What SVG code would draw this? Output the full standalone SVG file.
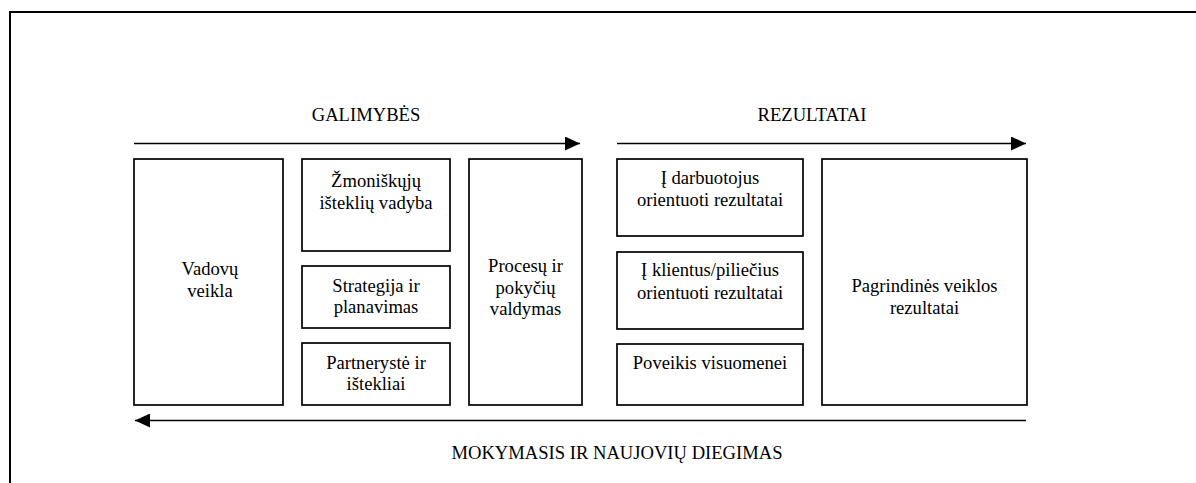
<svg xmlns="http://www.w3.org/2000/svg" width="1196" height="483" viewBox="0 0 1196 483">
<style>
.box{fill:#fff;stroke:#000;stroke-width:1.7}
.ln{stroke:#000;stroke-width:1.5;fill:none}
text{font-family:"Liberation Serif","Times New Roman",serif;font-size:18.6px;fill:#000;text-anchor:middle}
</style>
<defs>
<marker id="ah" markerWidth="15" markerHeight="14" refX="15" refY="7" orient="auto" markerUnits="userSpaceOnUse">
<path d="M0,0 L15,7 L0,14 Z" fill="#000"/>
</marker>
</defs>
<rect width="1196" height="483" fill="#fff"/>
<g id="frame">
<path d="M10,483 L10,12 L1196,12" fill="none" stroke="#000" stroke-width="2"/>
</g>
<g id="labels">
<text x="366" y="121">GALIMYBĖS</text>
<text x="812" y="121">REZULTATAI</text>
<text x="617" y="459">MOKYMASIS IR NAUJOVIŲ DIEGIMAS</text>
</g>
<g id="connectors">
<line class="ln" x1="134" y1="143.5" x2="580" y2="143.5" marker-end="url(#ah)"/>
<line class="ln" x1="617" y1="143.5" x2="1026" y2="143.5" marker-end="url(#ah)"/>
<line class="ln" x1="1026" y1="420.5" x2="135" y2="420.5" marker-end="url(#ah)"/>
</g>
<g id="vadovu">
<rect class="box" x="134" y="159" width="149" height="246"/>
<text x="210" y="275">Vadovų</text>
<text x="210" y="297">veikla</text>
</g>
<g id="zmogiskuju">
<rect class="box" x="302" y="159" width="148" height="92"/>
<text x="376" y="187">Žmoniškųjų</text>
<text x="376" y="208.5">išteklių vadyba</text>
</g>
<g id="strategija">
<rect class="box" x="302" y="266" width="148" height="62"/>
<text x="376" y="291.5">Strategija ir</text>
<text x="376" y="313">planavimas</text>
</g>
<g id="partneryste">
<rect class="box" x="302" y="343" width="148" height="62"/>
<text x="376" y="368.5">Partnerystė ir</text>
<text x="376" y="390">ištekliai</text>
</g>
<g id="procesu">
<rect class="box" x="469" y="159" width="113" height="246"/>
<text x="525.5" y="271.5">Procesų ir</text>
<text x="525.5" y="293.5">pokyčių</text>
<text x="525.5" y="315">valdymas</text>
</g>
<g id="darbuotojus">
<rect class="box" x="617" y="159" width="186" height="77"/>
<text x="710" y="183.5">Į darbuotojus</text>
<text x="710" y="206">orientuoti rezultatai</text>
</g>
<g id="klientus">
<rect class="box" x="617" y="252" width="186" height="77"/>
<text x="710" y="276">Į klientus/piliečius</text>
<text x="710" y="298.5">orientuoti rezultatai</text>
</g>
<g id="poveikis">
<rect class="box" x="617" y="344" width="186" height="61"/>
<text x="710" y="368.5">Poveikis visuomenei</text>
</g>
<g id="pagrindines">
<rect class="box" x="822" y="159" width="205" height="246"/>
<text x="924.5" y="291.5">Pagrindinės veiklos</text>
<text x="924.5" y="313.5">rezultatai</text>
</g>
</svg>
